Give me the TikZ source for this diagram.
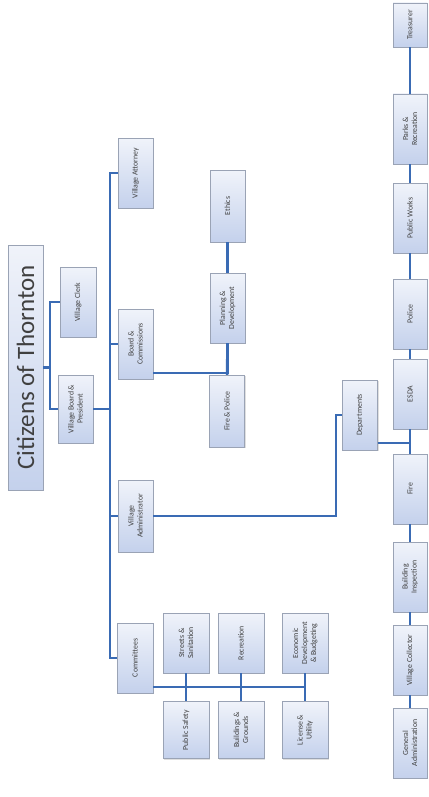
\documentclass[tikz,border=0pt]{standalone}
\usepackage{fontspec}
\setmainfont{Carlito}
\usetikzlibrary{shadows}
\definecolor{boxtop}{HTML}{F0F3FA}
\definecolor{boxbot}{HTML}{C4D1EC}
\definecolor{boxedge}{HTML}{9AA3B5}
\definecolor{linkblue}{HTML}{3A6BB4}
\begin{document}
\begin{tikzpicture}[x=1pt, y=-1pt,
   box/.style={draw=boxedge, rotate=90, top color=boxtop, bottom color=boxbot,
               minimum width=70pt, minimum height=35pt, inner sep=1pt,
               align=center, text=black!75, font=\fontsize{7.8}{9}\selectfont,
               drop shadow={opacity=0.25, shadow xshift=1pt, shadow yshift=-1pt}},
   dept/.style={box, minimum height=34pt},
   sub/.style={box, minimum height=46pt, minimum width=60pt},
   link/.style={draw=linkblue, line width=2.5pt}]
  \useasboundingbox (0,0) rectangle (428,797);
  % top of the tree
  \node[box, minimum width=245pt, font=\fontsize{25}{28}\selectfont] (cit) at (25.5,367.5) {Citizens of Thornton};
  \node[box, minimum height=36pt] (clerk) at (78,302) {Village Clerk};
  \node[box, minimum width=68pt] (bp) at (75.5,409) {Village Board \&\\ President};
  % second level
  \node[box] (att) at (135.5,173) {Village Attorney};
  \node[box] (bc) at (135.5,344) {Board \&\\ Commissions};
  \node[box, minimum width=72pt] (adm) at (135.5,516) {Village\\ Administrator};
  \node[box, minimum height=36pt] (com) at (135,658) {Committees};
  % boards
  \node[box, minimum width=72pt] (eth) at (227.5,206) {Ethics};
  \node[box] (pd) at (227.5,308) {Planning \&\\ Development};
  \node[box, minimum width=72pt] (fp) at (227,411) {Fire \& Police};
  % departments
  \node[box] (dep) at (360,415) {Departments};
  \node[dept, minimum width=44pt] (treas) at (410,25) {Treasurer};
  \node[dept] (parks) at (410,129) {Parks \&\\ Recreation};
  \node[dept] (pw) at (410,218) {Public Works};
  \node[dept] (pol) at (410,314) {Police};
  \node[dept] (esda) at (410,394) {ESDA};
  \node[dept] (fire) at (410,489) {Fire};
  \node[dept] (bi) at (410,577) {Building\\ Inspection};
  \node[dept] (vc) at (410,660) {Village Collector};
  \node[dept] (ga) at (410,743) {General\\ Administration};
  % committees
  \node[sub] (ss) at (186,643) {Streets \&\\ Sanitation};
  \node[sub] (rec) at (241,643) {Recreation};
  \node[sub] (edb) at (305,643) {Economic\\ Development\\ \& Budgeting};
  \node[sub, minimum width=57pt] (ps) at (186,730) {Public Safety};
  \node[sub, minimum width=57pt] (bg) at (241,730) {Buildings \&\\ Grounds};
  \node[sub, minimum width=57pt] (lu) at (305,730) {License \&\\ Utility};

  \coordinate (tj) at (50,367.5);
  \coordinate (tk) at (110,0);
  \coordinate (dj) at (336,0);
  \draw[link] (cit.south) -- (tj);
  \draw[link] (clerk.north) -| (tj);
  \draw[link] (bp.north) -| (tj);
  % trunk
  \draw[link] (att.north) -- (att.north -| tk) -- (com.north -| tk) -- (com.north);
  \draw[link] (bp.south) -- (bp.south -| tk);
  \draw[link] (bc.north) -- (bc.north -| tk);
  \draw[link] (adm.north) -- (adm.north -| tk);
  % boards
  \draw[link] ([yshift=-29pt]bc.south) -| (pd.west);
  \draw[link] (pd.west) -- (fp.east);
  \draw[link] (eth.west) -- (pd.east);
  % departments
  \draw[link] (adm.south) -- (adm.south -| dj) |- (dep.north);
  \draw[link] ([yshift=-28pt]dep.south) -| (esda.west);
  \foreach \a/\b in {treas/parks, parks/pw, pw/pol, pol/esda, esda/fire,
                     fire/bi, bi/vc, vc/ga}
    \draw[link] (\a.west) -- (\b.east);
  % committees
  \draw[link] ([yshift=-29pt]com.south) -- ([yshift=-29pt]com.south -| edb.west);
  \draw[link] (ss.west) -- (ps.east);
  \draw[link] (rec.west) -- (bg.east);
  \draw[link] (edb.west) -- (lu.east);
\end{tikzpicture}
\end{document}
